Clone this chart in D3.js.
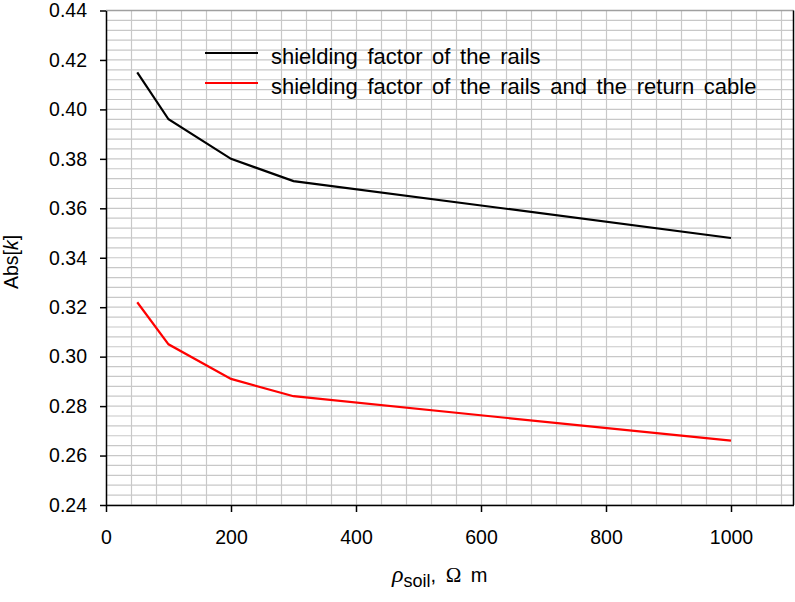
<!DOCTYPE html>
<html><head><meta charset="utf-8">
<script src="https://cdn.jsdelivr.net/npm/d3@7"></script>
<style>body{margin:0;background:#fff;} svg{display:block;}</style>
</head><body>
<svg id="c" width="795" height="602"></svg>
<script>
const rho = [50, 100, 200, 300, 1000];
const railsOnly = [0.415, 0.396, 0.380, 0.371, 0.348];
const railsAndCable = [0.322, 0.305, 0.291, 0.284, 0.266];
const seriesNames = ["shielding factor of the rails", "shielding factor of the rails and the return cable"];
const seriesColors = ["#000000", "#ff0000"];
const xTicks = [0, 200, 400, 600, 800, 1000];
const yTicks = [0.24, 0.26, 0.28, 0.30, 0.32, 0.34, 0.36, 0.38, 0.40, 0.42, 0.44];

const svg = d3.select("#c");
const L = 106, R = 793.5, T = 10.5, B = 505;
const x = d3.scaleLinear().domain([0, 1100]).range([L, R]);
const y = d3.scaleLinear().domain([0.24, 0.44]).range([B, T]);
const font = "'Liberation Sans', Arial, sans-serif";

// minor grid
const g = svg.append("g");
d3.range(0, 1100.001, 40).forEach(v => {
  g.append("line").attr("x1", Math.round(x(v))+0.5).attr("x2", Math.round(x(v))+0.5).attr("y1", T).attr("y2", B)
   .attr("stroke", "#c8c8c8").attr("stroke-width", 1.2);
});
d3.range(0, 50.5, 1).forEach(i => {
  const v = 0.24 + i*0.004;
  g.append("line").attr("y1", y(v)).attr("y2", y(v)).attr("x1", L).attr("x2", R)
   .attr("stroke", "#c8c8c8").attr("stroke-width", 1.2);
});
// top border gray, right border black
svg.append("line").attr("x1", L).attr("x2", R).attr("y1", T).attr("y2", T).attr("stroke", "#a0a0a0").attr("stroke-width", 1.5);
svg.append("line").attr("x1", R).attr("x2", R).attr("y1", T).attr("y2", B).attr("stroke", "#000").attr("stroke-width", 1.5);

// axes
const xAxis = d3.axisBottom(x).tickValues(xTicks).tickSize(7).tickSizeOuter(0).tickPadding(18).tickFormat(d3.format("d"));
const yAxis = d3.axisLeft(y).tickValues(yTicks).tickSize(6).tickSizeOuter(0).tickPadding(13).tickFormat(d3.format(".2f"));
const gx = svg.append("g").attr("transform", `translate(0,${B})`).call(xAxis);
const gy = svg.append("g").attr("transform", `translate(${L},0)`).call(yAxis);
[gx, gy].forEach(a => {
  a.select(".domain").attr("stroke", "#000").attr("stroke-width", 1.5);
  a.selectAll(".tick line").attr("stroke", "#000").attr("stroke-width", 1.5);
  a.selectAll("text").attr("font-family", font).attr("font-size", 19.5).attr("fill", "#000");
});

// lines
const line = d3.line().x((d, i) => x(rho[i])).y(d => y(d));
[railsOnly, railsAndCable].forEach((s, k) => {
  svg.append("path").datum(s).attr("d", line).attr("fill", "none")
    .attr("stroke", seriesColors[k]).attr("stroke-width", 2.2);
});

// legend
seriesNames.forEach((n, k) => {
  const yy = 53 + k*30;
  svg.append("line").attr("x1", 205).attr("x2", 258).attr("y1", yy).attr("y2", yy)
    .attr("stroke", seriesColors[k]).attr("stroke-width", 2.2);
  svg.append("text").attr("x", 271).attr("y", yy + 11).attr("font-family", font).attr("font-size", 22)
    .style("word-spacing", "3.5px").text(n);
});

// y title
const yt = svg.append("text").attr("transform", "translate(18,262) rotate(-90)").attr("text-anchor", "middle")
  .attr("font-family", font).attr("font-size", 19.5);
yt.append("tspan").text("Abs[");
yt.append("tspan").attr("font-style", "italic").text("k");
yt.append("tspan").text("]");

// x title
const xt = svg.append("text").attr("x", 392).attr("y", 582).attr("font-family", font).attr("font-size", 20)
  .style("word-spacing", "4px");
xt.append("tspan").attr("font-family", "'Liberation Serif', serif").attr("font-style", "italic").attr("font-size", 24).text("ρ");
xt.append("tspan").attr("dy", 5).attr("font-size", 18).text("soil");
xt.append("tspan").attr("dy", -5).text(", ");
xt.append("tspan").attr("font-family", "'Liberation Serif', serif").attr("font-size", 21).text("Ω");
xt.append("tspan").text(" m");
</script>
</body></html>
